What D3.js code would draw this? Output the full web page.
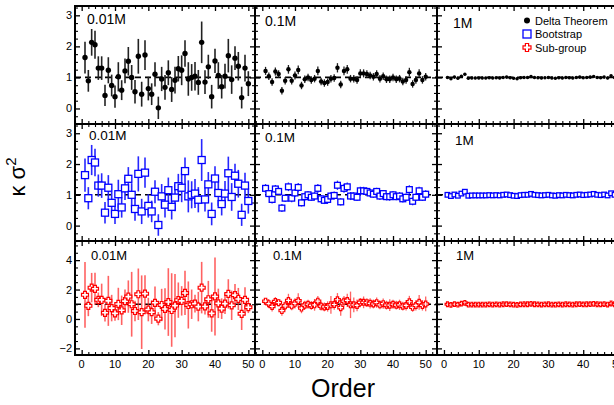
<!DOCTYPE html>
<html><head><meta charset="utf-8">
<script src="https://cdn.jsdelivr.net/npm/d3@7"></script>
<style>body{margin:0;background:#fff}svg{display:block}text{font-family:"Liberation Sans",Arial,sans-serif;fill:#000}</style>
</head><body><svg id="c" width="614" height="405"></svg>
<script>
// ---------------- data ----------------
const orders = [1,2,3,4,5,6,7,8,9,10,11,12,13,14,15,16,17,18,19,20,21,22,23,24,25,26,27,28,29,30,31,32,33,34,35,36,37,38,39,40,41,42,43,44,45,46,47,48,49,50];
const sizes = ["0.01M","0.1M","1M"];
const methods = ["Delta Theorem","Bootstrap","Sub-group"];

const val001 = [1.64,0.89,2.13,2.05,1.30,1.30,0.42,1.23,0.74,0.38,1.02,0.59,1.21,1.52,1.00,0.54,1.68,0.46,1.72,0.64,0.46,1.10,0.02,0.95,0.68,1.15,0.61,0.91,1.28,1.23,1.77,0.95,1.00,1.04,0.84,2.13,0.85,1.34,0.38,1.53,1.06,0.70,1.04,1.70,0.93,1.62,1.36,0.35,1.30,0.80];
const val01 = [1.21,1.04,0.85,1.19,1.11,0.57,0.89,1.26,0.89,1.06,1.24,0.74,0.94,1.00,0.92,0.96,1.21,0.87,0.82,0.85,0.96,0.98,1.31,0.77,1.21,1.26,0.96,0.96,0.92,1.13,1.13,1.11,1.06,1.02,1.11,0.96,1.04,0.94,0.94,1.00,0.94,0.96,0.87,0.92,1.17,0.79,0.92,1.13,0.92,1.02];
const val1 = [1.00,0.96,1.01,0.97,1.04,1.10,0.97,0.98,0.98,0.98,0.98,0.98,0.99,0.98,0.99,0.98,1.00,1.01,0.99,0.97,0.96,0.99,1.00,1.00,1.03,1.00,0.99,0.98,0.99,1.00,0.98,0.97,0.99,0.98,1.00,0.99,0.98,1.00,1.01,0.99,1.00,1.01,1.03,1.00,0.99,1.01,0.98,1.05,1.00,1.01];

const errDelta001 = [0.51,0.35,0.43,0.45,0.38,0.38,0.34,0.42,0.35,0.36,0.47,0.32,0.40,0.46,0.40,0.38,0.56,0.40,0.48,0.38,0.35,0.39,0.36,0.39,0.40,0.40,0.40,0.43,0.41,0.48,0.43,0.54,0.43,0.46,0.40,0.67,0.38,0.39,0.38,0.39,0.43,0.38,0.40,0.54,0.46,0.38,0.46,0.35,0.43,0.40];
const errBoot001 = [0.54,0.36,0.49,0.45,0.36,0.40,0.35,0.41,0.36,0.33,0.47,0.33,0.38,0.38,0.38,0.38,0.57,0.41,0.49,0.38,0.35,0.37,0.35,0.40,0.42,0.41,0.41,0.44,0.40,0.47,0.44,0.52,0.44,0.47,0.41,0.68,0.39,0.40,0.37,0.40,0.42,0.37,0.41,0.54,0.45,0.39,0.45,0.36,0.42,0.41];
const errSub001 = [2.24,0.70,1.00,1.10,0.50,1.10,0.60,1.70,0.90,0.50,1.10,1.00,0.80,1.10,2.20,0.70,1.75,2.50,1.25,0.80,0.80,1.10,0.45,1.10,1.40,2.30,2.50,2.15,1.20,1.00,1.50,1.60,1.00,0.60,1.00,1.75,0.55,1.25,1.25,2.65,1.00,0.70,0.70,1.00,1.00,0.75,0.75,1.10,0.85,0.40];

const errDelta01 = [0.13,0.12,0.12,0.13,0.12,0.12,0.12,0.14,0.12,0.13,0.14,0.12,0.12,0.12,0.12,0.12,0.14,0.12,0.12,0.12,0.12,0.12,0.15,0.12,0.14,0.14,0.12,0.12,0.12,0.13,0.13,0.12,0.12,0.12,0.12,0.12,0.12,0.12,0.12,0.12,0.12,0.12,0.12,0.12,0.14,0.12,0.12,0.13,0.12,0.12];
const errBoot01 = [0.14,0.12,0.13,0.13,0.12,0.13,0.12,0.14,0.13,0.13,0.14,0.12,0.13,0.12,0.12,0.13,0.14,0.12,0.12,0.13,0.12,0.13,0.15,0.12,0.14,0.14,0.13,0.12,0.12,0.13,0.13,0.12,0.13,0.12,0.12,0.13,0.12,0.12,0.13,0.12,0.12,0.13,0.12,0.12,0.14,0.13,0.12,0.13,0.12,0.13];
const errSub01 = [0.20,0.30,0.35,0.30,0.25,0.35,0.30,0.45,0.30,0.35,0.50,0.35,0.30,0.30,0.30,0.40,0.35,0.30,0.30,0.35,0.60,0.35,0.45,0.55,0.35,0.45,0.90,0.50,0.40,0.30,0.40,0.30,0.35,0.30,0.35,0.30,0.35,0.30,0.40,0.30,0.30,0.35,0.30,0.35,0.40,0.30,0.35,0.50,0.35,0.50];

const errDelta1 = [0.04,0.04,0.04,0.04,0.04,0.04,0.04,0.04,0.04,0.04,0.04,0.04,0.04,0.04,0.04,0.04,0.04,0.04,0.04,0.04,0.04,0.04,0.04,0.04,0.04,0.04,0.04,0.04,0.04,0.04,0.04,0.04,0.04,0.04,0.04,0.04,0.04,0.04,0.04,0.04,0.04,0.04,0.04,0.04,0.04,0.04,0.04,0.04,0.04,0.04];
const errBoot1 = [0.04,0.05,0.04,0.04,0.05,0.04,0.04,0.05,0.04,0.04,0.04,0.05,0.04,0.04,0.05,0.04,0.04,0.04,0.05,0.04,0.04,0.05,0.04,0.04,0.04,0.05,0.04,0.04,0.05,0.04,0.04,0.04,0.05,0.04,0.04,0.05,0.04,0.04,0.04,0.05,0.04,0.04,0.05,0.04,0.04,0.04,0.05,0.04,0.04,0.05];
const errSub1 = [0.08,0.10,0.07,0.09,0.08,0.12,0.08,0.07,0.09,0.08,0.10,0.08,0.07,0.09,0.08,0.08,0.10,0.07,0.09,0.08,0.08,0.11,0.08,0.07,0.09,0.08,0.10,0.08,0.07,0.09,0.08,0.08,0.10,0.07,0.09,0.08,0.08,0.10,0.08,0.07,0.09,0.08,0.10,0.08,0.07,0.09,0.08,0.08,0.10,0.07];

const yTicksUpper = [0,1,2,3];
const yTicksLower = [-2,0,2,4];
const xTicks = [0,10,20,30,40,50];

// ---------------- layout ----------------
const svg = d3.select("#c");
const cols = [
  {x0:75, x1:255, dom:[-2,52]},
  {x0:255, x1:437, dom:[-2.23,53.46]},
  {x0:437, x1:625, dom:[-2,52]}
];
const rows = [
  {y0:6, y1:124, dom:[-0.5,3.3], major:yTicksUpper, minorStep:0.25},
  {y0:124, y1:241, dom:[-0.5,3.3], major:yTicksUpper, minorStep:0.25},
  {y0:241, y1:355, dom:[-2.45,5.3], major:yTicksLower, minorStep:0.5}
];
const values = [val001, val01, val1];
const errs = [
  [errDelta001, errDelta01, errDelta1],
  [errBoot001, errBoot01, errBoot1],
  [errSub001, errSub01, errSub1]
];
const styles = [
  {bar:"#222", barOp:1},
  {bar:"#1a1aff", barOp:0.95},
  {bar:"#ff2020", barOp:0.7}
];
const markSize = [7, 5.8, 4.6];
const barW = [1.6, 1.3, 1.0];

const labelPos = [
  [[87,24,14],[265,26,14],[453,28,14]],
  [[89,140,13.5],[265,142,13.5],[455,145,13.5]],
  [[91,260,13],[273,260,13],[456,260,13]]
];

function crossPath(s){
  const h = s/2, a = s*0.2;
  return `M${-a},${-h}H${a}V${-a}H${h}V${a}H${a}V${h}H${-a}V${a}H${-h}V${-a}H${-a}Z`;
}

function minorVals(dom, step){
  const out = [];
  const start = Math.ceil(dom[0]/step);
  const end = Math.floor(dom[1]/step);
  for (let i=start;i<=end;i++) out.push(+(i*step).toFixed(4));
  return out;
}

rows.forEach((R, ri) => {
  cols.forEach((C, ci) => {
    const x = d3.scaleLinear().domain(C.dom).range([C.x0, C.x1]);
    const y = d3.scaleLinear().domain(R.dom).range([R.y1, R.y0]);
    const g = svg.append("g");

    const yMinor = minorVals(R.dom, R.minorStep).filter(v => !R.major.includes(v));
    const xMinor = minorVals(C.dom, 2).filter(v => !xTicks.includes(v));
    const axes = [
      [() => d3.axisLeft(y), C.x0, 0, R.major, yMinor],
      [() => d3.axisRight(y), C.x1, 0, R.major, yMinor],
      [() => d3.axisBottom(x), 0, R.y1, xTicks, xMinor],
      [() => d3.axisTop(x), 0, R.y0, xTicks, xMinor]
    ];
    axes.forEach(([mk, tx, ty, maj, mi]) => {
      g.append("g").attr("transform", `translate(${tx},${ty})`)
        .call(mk().tickValues(maj).tickSize(-5).tickFormat(""))
        .call(s => { s.select(".domain").remove(); s.selectAll("line").attr("stroke","#000").attr("stroke-width",1.3); });
      g.append("g").attr("transform", `translate(${tx},${ty})`)
        .call(mk().tickValues(mi).tickSize(-3).tickFormat(""))
        .call(s => { s.select(".domain").remove(); s.selectAll("line").attr("stroke","#000").attr("stroke-width",1.1); });
    });

    if (ci === 0) {
      R.major.forEach(v => {
        g.append("text").attr("x", C.x0 - 3).attr("y", y(v) + 4)
          .attr("text-anchor","end").attr("font-size",11).text(d3.format("d")(v));
      });
    }
    if (ri === 2) {
      xTicks.forEach(v => {
        g.append("text").attr("x", x(v)).attr("y", R.y1 + 13)
          .attr("text-anchor","middle").attr("font-size",11).text(v);
      });
    }

    g.append("line").attr("x1", C.x0).attr("x2", Math.min(C.x1, 614)).attr("y1", y(1)).attr("y2", y(1))
      .attr("stroke","#000").attr("stroke-width",1.6).attr("stroke-dasharray","6,4");

    const vals = values[ci], e = errs[ri][ci], st = styles[ri];
    const data = orders.map((o,i) => ({o, v: vals[i], e: e[i]}));
    g.append("g").selectAll("line").data(data).join("line")
      .attr("x1", d => x(d.o)).attr("x2", d => x(d.o))
      .attr("y1", d => y(d.v - d.e)).attr("y2", d => y(d.v + d.e))
      .attr("stroke", st.bar).attr("stroke-opacity", st.barOp).attr("stroke-width", barW[ci]);
    const s = markSize[ci];
    const mg = g.append("g");
    if (ri === 0) {
      mg.selectAll("circle").data(data).join("circle")
        .attr("cx", d => x(d.o)).attr("cy", d => y(d.v)).attr("r", s/2.6).attr("fill","#000");
    } else if (ri === 1) {
      const q = s;
      mg.selectAll("rect").data(data).join("rect")
        .attr("x", d => x(d.o)-q/2).attr("y", d => y(d.v)-q/2).attr("width", q).attr("height", q)
        .attr("fill","#fff").attr("stroke","#0000ff").attr("stroke-width",1.3);
    } else {
      mg.selectAll("path").data(data).join("path")
        .attr("transform", d => `translate(${x(d.o)},${y(d.v)})`)
        .attr("d", crossPath(s)).attr("fill","#fff").attr("stroke","#ff0000").attr("stroke-width",1.2);
    }

    g.append("rect").attr("x", C.x0).attr("y", R.y0).attr("width", C.x1 - C.x0).attr("height", R.y1 - R.y0)
      .attr("fill","none").attr("stroke","#000").attr("stroke-width",2);

    const lp = labelPos[ri][ci];
    g.append("text").attr("x", lp[0]).attr("y", lp[1]).attr("font-size", lp[2]).text(sizes[ci]);
  });
});

// legend
const leg = svg.append("g");
const lx = 527, ly = [20.5, 34, 47.5];
leg.append("circle").attr("cx", lx).attr("cy", ly[0]).attr("r", 3).attr("fill","#000");
leg.append("rect").attr("x", lx-4).attr("y", ly[1]-4).attr("width",8).attr("height",8)
  .attr("fill","#fff").attr("stroke","#0000ff").attr("stroke-width",1.3);
leg.append("path").attr("transform",`translate(${lx},${ly[2]})`).attr("d", crossPath(8))
  .attr("fill","#fff").attr("stroke","#ff0000").attr("stroke-width",1.2);
methods.forEach((m,i) => {
  leg.append("text").attr("x", 535).attr("y", ly[i] + 4).attr("font-size", 11).text(m);
});

// axis titles
svg.append("text").attr("x", 343).attr("y", 397).attr("text-anchor","middle").attr("font-size",25).text("Order");
const yt = svg.append("text").attr("transform","translate(25,177) rotate(-90)")
  .attr("text-anchor","middle").attr("font-size",22);
yt.append("tspan").text("κ σ");
yt.append("tspan").attr("font-size",15).attr("dy",-9).text("2");
</script>
</body></html>
